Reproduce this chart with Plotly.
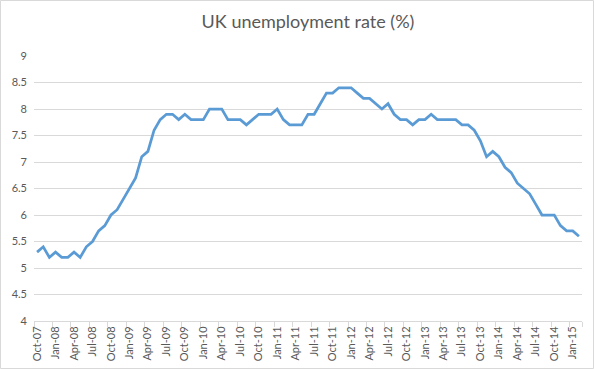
import plotly.graph_objects as go

months = ["Oct-07","Nov-07","Dec-07",
          "Jan-08","Feb-08","Mar-08","Apr-08","May-08","Jun-08","Jul-08","Aug-08","Sep-08","Oct-08","Nov-08","Dec-08",
          "Jan-09","Feb-09","Mar-09","Apr-09","May-09","Jun-09","Jul-09","Aug-09","Sep-09","Oct-09","Nov-09","Dec-09",
          "Jan-10","Feb-10","Mar-10","Apr-10","May-10","Jun-10","Jul-10","Aug-10","Sep-10","Oct-10","Nov-10","Dec-10",
          "Jan-11","Feb-11","Mar-11","Apr-11","May-11","Jun-11","Jul-11","Aug-11","Sep-11","Oct-11","Nov-11","Dec-11",
          "Jan-12","Feb-12","Mar-12","Apr-12","May-12","Jun-12","Jul-12","Aug-12","Sep-12","Oct-12","Nov-12","Dec-12",
          "Jan-13","Feb-13","Mar-13","Apr-13","May-13","Jun-13","Jul-13","Aug-13","Sep-13","Oct-13","Nov-13","Dec-13",
          "Jan-14","Feb-14","Mar-14","Apr-14","May-14","Jun-14","Jul-14","Aug-14","Sep-14","Oct-14","Nov-14","Dec-14",
          "Jan-15","Feb-15"]

rate = [5.3, 5.4, 5.2,
        5.3, 5.2, 5.2, 5.3, 5.2, 5.4, 5.5, 5.7, 5.8, 6.0, 6.1, 6.3,
        6.5, 6.7, 7.1, 7.2, 7.6, 7.8, 7.9, 7.9, 7.8, 7.9, 7.8, 7.8,
        7.8, 8.0, 8.0, 8.0, 7.8, 7.8, 7.8, 7.7, 7.8, 7.9, 7.9, 7.9,
        8.0, 7.8, 7.7, 7.7, 7.7, 7.9, 7.9, 8.1, 8.3, 8.3, 8.4, 8.4,
        8.4, 8.3, 8.2, 8.2, 8.1, 8.0, 8.1, 7.9, 7.8, 7.8, 7.7, 7.8,
        7.8, 7.9, 7.8, 7.8, 7.8, 7.8, 7.7, 7.7, 7.6, 7.4, 7.1, 7.2,
        7.1, 6.9, 6.8, 6.6, 6.5, 6.4, 6.2, 6.0, 6.0, 6.0, 5.8, 5.7,
        5.7, 5.6]

y_ticks = [4, 4.5, 5, 5.5, 6, 6.5, 7, 7.5, 8, 8.5, 9]
title_text = "UK unemployment rate (%)"

idx = list(range(len(months)))
label_idx = idx[::3]
label_text = [months[i] for i in label_idx]

FONT = "Lato"
TXT = "#595959"
GRID = "#d9d9d9"

fig = go.Figure()
fig.add_trace(go.Scatter(x=idx, y=rate, mode="lines",
                         line=dict(color="#5b9bd5", width=2.75),
                         hoverinfo="skip", showlegend=False))
# invisible trace for secondary x axis (boundary tick marks)
fig.add_trace(go.Scatter(x=[idx[0]], y=[rate[0]], xaxis="x2", mode="lines",
                         line=dict(width=0), hoverinfo="skip", showlegend=False))

L, R, T, B = 34, 12, 56, 48
W, H = 594, 369
pw, ph = W - L - R, H - T - B

fig.update_layout(
    width=W, height=H,
    margin=dict(l=L, r=R, t=T, b=B, pad=0, autoexpand=False),
    paper_bgcolor="white", plot_bgcolor="white",
    title=dict(text=title_text, x=0.5, xref="paper", xanchor="center",
               y=1 - 22 / H, yanchor="middle",
               font=dict(family=FONT, size=18, color=TXT)),
    xaxis=dict(range=[-0.5, len(months) - 0.5], tickmode="array",
               tickvals=label_idx, ticktext=label_text, tickangle=-90,
               ticks="", showgrid=False, zeroline=False, automargin=False,
               showline=True, linecolor=GRID, linewidth=1,
               tickfont=dict(family=FONT, size=11, color=TXT)),
    xaxis2=dict(overlaying="x", side="bottom", range=[-0.5, len(months) - 0.5],
                tickmode="array", tickvals=[i - 0.5 for i in label_idx] + [len(months) - 0.5],
                showticklabels=False, ticks="outside", ticklen=5, tickcolor=GRID,
                tickwidth=1, showgrid=False, zeroline=False, showline=False),
    yaxis=dict(range=[4, 9], tickmode="array", tickvals=y_ticks,
               ticktext=[f"{v:g}" for v in y_ticks], automargin=False,
               showgrid=True, gridcolor=GRID, gridwidth=1, zeroline=False,
               showline=False, ticks="", ticklabelstandoff=6,
               tickfont=dict(family=FONT, size=11, color=TXT)),
    shapes=[dict(type="rect", xref="paper", yref="paper",
                 x0=(0.5 - L) / pw, x1=(W - 0.5 - L) / pw,
                 y0=(H - B - (H - 0.5)) / ph, y1=(H - B - 0.5) / ph,
                 line=dict(color=GRID, width=1), fillcolor="rgba(0,0,0,0)",
                 layer="below")],
)

fig.write_html("out.html", config={"displayModeBar": False},
               post_script="document.body.style.margin='0';document.body.style.overflow='hidden';")
